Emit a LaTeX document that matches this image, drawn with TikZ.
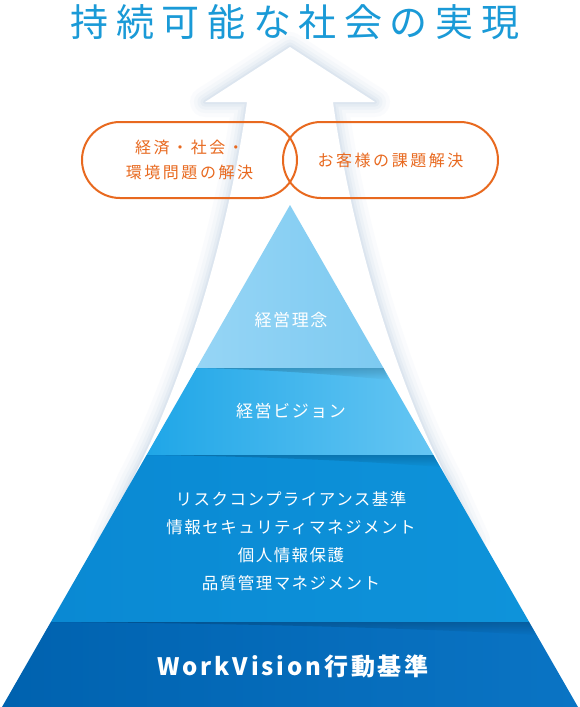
\documentclass[tikz,border=0pt]{standalone}
\usepackage{fontspec}
\usetikzlibrary{fadings}
\newfontfamily\titlefont[LetterSpace=20]{Noto Sans CJK JP}
\newfontfamily\jpfont[LetterSpace=9]{Noto Sans CJK JP}
\newfontfamily\ovalfont[LetterSpace=16]{Noto Sans CJK JP}
\newfontfamily\codefont[LetterSpace=12]{Noto Sans CJK JP}
\definecolor{titleblue}{HTML}{1A9AD7}
\definecolor{ovalorange}{HTML}{E8691F}
\definecolor{arrowshade}{HTML}{AFC3DA}
\definecolor{topleft}{HTML}{96D5F5}
\definecolor{topright}{HTML}{7DCAF1}
\definecolor{visionleft}{HTML}{1FA6E7}
\definecolor{visionright}{HTML}{66C6F3}
\definecolor{ruleleft}{HTML}{0A89D3}
\definecolor{ruleright}{HTML}{0E93DA}
\definecolor{baseleft}{HTML}{0062AF}
\definecolor{baseright}{HTML}{0A74C4}
\begin{document}
\begin{tikzpicture}[x=1pt,y=-1pt,
    oval/.style={draw=ovalorange, line width=2pt, rounded corners=38pt,
      minimum width=215pt, minimum height=76pt, inner sep=0pt,
      text=ovalorange, align=center, font=\ovalfont\fontsize{16}{25}\selectfont},
    layertext/.style={text=white, align=center, inner sep=0pt},
    seam/.style={black, opacity=0.18, path fading=south}]
  \useasboundingbox (0,0) rectangle (580,707);
  \fill[white] (0,0) rectangle (580,707);
  % title
  \node[text=titleblue, inner sep=0pt, font=\titlefont\fontsize{38}{40}\selectfont]
    (goal) at (295,22.5) {持続可能な社会の実現};
  % big arrow behind the pyramid
  \foreach \w/\o in {30/0.05,22/0.07,15/0.09,9/0.12,4/0.15}
    \draw[arrowshade, line width=\w pt, opacity=\o, line join=round]
      (247,102) -- (205,102) -- (290,47) -- (375,102) -- (333,102)
      .. controls (352,240) and (400,390) .. (448,480) -- (475,540)
      -- (105,540) -- (132,480) .. controls (180,390) and (228,240) .. (247,102) -- cycle;
  \fill[white] (247,102) -- (205,102) -- (290,47) -- (375,102) -- (333,102)
      .. controls (352,240) and (400,390) .. (448,480) -- (475,540)
      -- (105,540) -- (132,480) .. controls (180,390) and (228,240) .. (247,102) -- cycle;
  % the two goals
  \node[oval] (society) at (189.5,160) {経済・社会・\\環境問題の解決};
  \node[oval] (customer) at (390.5,160) {お客様の課題解決};
  % pyramid
  \shade[left color=topleft, right color=topright]
    (290,205) -- (383.5,368) -- (196.5,368) -- cycle;
  \shade[left color=visionleft, right color=visionright]
    (196.5,368) -- (383.5,368) -- (433.4,455) -- (146.6,455) -- cycle;
  \shade[left color=ruleleft, right color=ruleright]
    (146.6,455) -- (433.4,455) -- (529.2,622) -- (50.8,622) -- cycle;
  \shade[left color=baseleft, right color=baseright]
    (50.8,622) -- (529.2,622) -- (578,707) -- (2,707) -- cycle;
  \fill[seam] (196.5,368) -- (383.5,368) -- (389,380)
    .. controls (320,373) and (250,369) .. (196.5,368) -- cycle;
  \fill[seam] (146.6,455) -- (433.4,455) -- (440,467)
    .. controls (350,460) and (240,456) .. (146.6,455) -- cycle;
  \fill[seam] (50.8,622) -- (529.2,622) -- (536,635)
    .. controls (400,627) and (200,623) .. (50.8,622) -- cycle;
  \node[layertext, font=\jpfont\fontsize{17}{20}\selectfont]
    (philosophy) at (291,320) {経営理念};
  \node[layertext, font=\jpfont\fontsize{17}{20}\selectfont]
    (vision) at (291,411.5) {経営ビジョン};
  \node[layertext, font=\jpfont\fontsize{16.5}{28}\selectfont] (policies) at (291,541)
    {リスクコンプライアンス基準\\情報セキュリティマネジメント\\個人情報保護\\品質管理マネジメント};
  \node[layertext, font=\codefont\bfseries\fontsize{24}{28}\selectfont]
    (conduct) at (293,666) {WorkVision行動基準};
\end{tikzpicture}
\end{document}
